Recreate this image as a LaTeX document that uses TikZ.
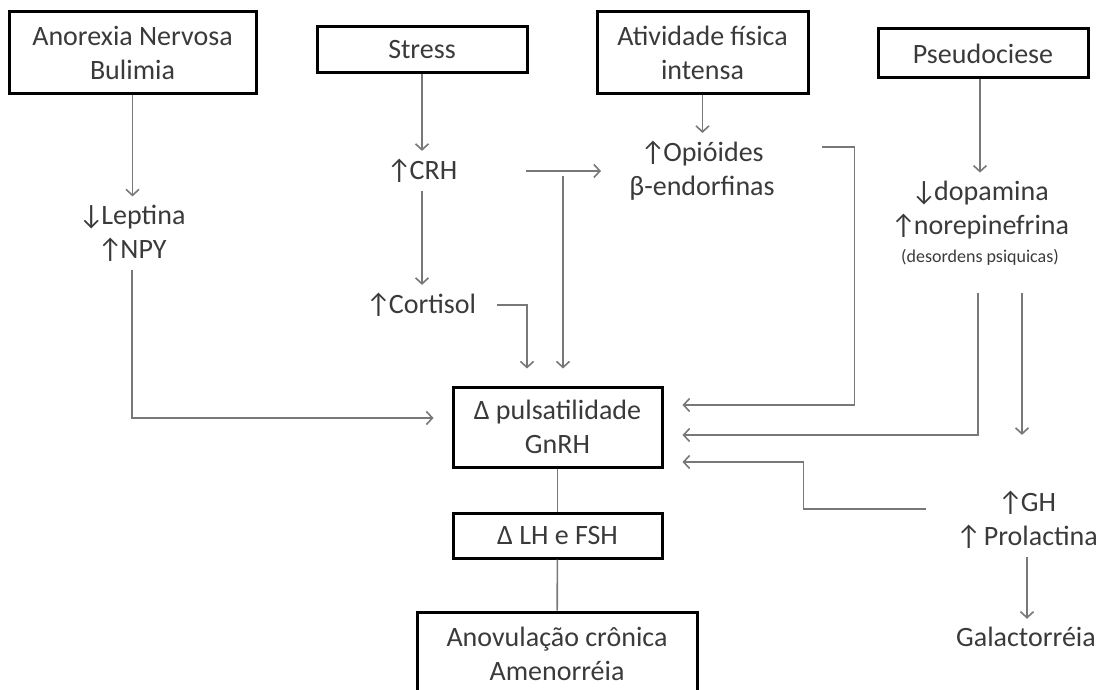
\documentclass[tikz,border=0pt]{standalone}
\usepackage{fontspec}
\setmainfont{Carlito}
\usetikzlibrary{arrows.meta,calc}
\definecolor{txt}{HTML}{3A3A3A}
\definecolor{ln}{HTML}{787878}
\newcommand{\up}{↑\kern-1.2pt}
\newcommand{\dn}{↓\kern-1.2pt}
\begin{document}
\begin{tikzpicture}[x=0.5pt,y=-0.5pt,
  every node/.style={font=\fontsize{14}{17}\selectfont},
  box/.style={draw=black,line width=1.5pt,text=txt,align=center,inner sep=0pt},
  lbl/.style={text=txt,align=center,inner sep=4pt},
  con/.style={draw=ln,line width=0.8pt},
  arr/.style={con,-{Straight Barb[length=3pt,width=6.5pt]}}]
\useasboundingbox (0,0) rectangle (1105,690);
\clip (0,0) rectangle (1105,690);
% boxes
\node[box,minimum width=123.5pt,minimum height=41pt] (anx) at (132.5,53) {Anorexia Nervosa\\Bulimia};
\node[box,minimum width=105pt,minimum height=23pt] (str) at (422,50) {Stress};
\node[box,minimum width=105.5pt,minimum height=41pt] (atv) at (702.5,53) {Atividade física\\intensa};
\node[box,minimum width=105pt,minimum height=24.5pt] (pse) at (983,53.5) {Pseudociese};
\node[box,minimum width=104.5pt,minimum height=40pt] (gnrh) at (557.5,427) {Δ pulsatilidade\\GnRH};
\node[box,minimum width=104.5pt,minimum height=22.5pt] (lh) at (557.5,535.5) {Δ LH e FSH};
\node[box,minimum width=140pt,minimum height=41.5pt] (anov) at (557,653.5) {Anovulação crônica\\Amenorréia};
% labels
\node[lbl] (lep) at (132,233) {\dn Leptina\\\up NPY};
\node[lbl] (crh) at (422,171) {\up CRH};
\node[lbl] (cort) at (421,305) {\up Cortisol};
\node[lbl] (opi) at (702,171) {\up Opióides\\β-endorfinas};
\node[lbl] (dop) at (980,210) {\dn dopamina\\\up norepinefrina};
\node[lbl,font=\fontsize{9}{11}\selectfont] (dsp) at (980,257) {(desordens psiquicas)};
\node[lbl] (gh) at (1027,520) {\up GH\\↑\kern-2pt\ Prolactina};
\node[lbl] (gal) at (1026,637) {Galactorréia};
% connectors
\draw[arr] (anx.south) -- (anx.south |- lep.north);
\draw[arr] (lep.south) |- ([shift={(-18,-9)}]gnrh.west);
\draw[arr] (str.south) -- (str.south |- crh.north);
\draw[arr] (crh.south) -- (crh.south |- cort.north);
\draw[arr,shorten >=10pt] ([xshift=30pt]crh.east) -- (crh.east -| opi.west);
\coordinate (crhb) at (563,176);
\draw[arr,shorten >=8.5pt] (crhb) -- (crhb |- gnrh.north);
\draw[arr] ([xshift=6.5pt]cort.east) -| ([shift={(-30.5,-17)}]gnrh.north);
\draw[arr] (atv.south) -- (atv.south |- opi.north);
\draw[arr] ([shift={(39,-24)}]opi.east) -| ([shift={(191,-22)}]gnrh.east) -- ([shift={(19,-22)}]gnrh.east);
\draw[arr] (dop.north |- pse.south) -- (dop.north);
\draw[arr] ([shift={(-2,20)}]dsp.south) |- ([shift={(19,8)}]gnrh.east);
\draw[arr,shorten >=24pt] ([shift={(42,20)}]dsp.south) coordinate (d2) -- (d2 |- gh.north);
\draw[arr] ([shift={(-22,-11)}]gh.west) -| ([shift={(140,35)}]gnrh.east) -- ([shift={(19,35)}]gnrh.east);
\draw[arr] (gh.south) -- (gh.south |- gal.north);
\draw[con] (gnrh) -- (lh);
\draw[con] (lh) -- (anov);
\end{tikzpicture}
\end{document}
